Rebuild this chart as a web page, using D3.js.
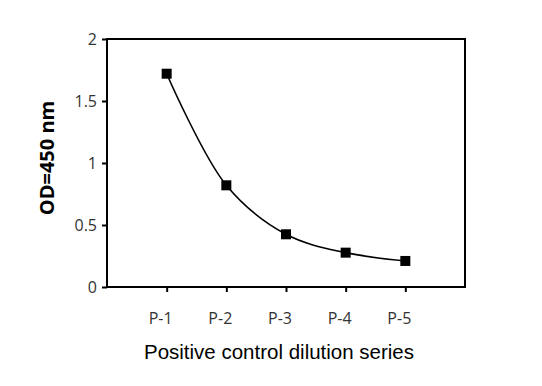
<!DOCTYPE html>
<html><head><meta charset="utf-8">
<script src="https://cdn.jsdelivr.net/npm/d3@7"></script>
<style>body{margin:0;background:#fff}svg{display:block}</style>
</head><body>
<script>
const categories = ["P-1","P-2","P-3","P-4","P-5"];
const values = [1.72, 0.82, 0.425, 0.277, 0.21];
const yTicks = [0, 0.5, 1, 1.5, 2];
const yTickLabels = ["0","0.5","1","1.5","2"];
const xTitle = "Positive control dilution series";
const yTitle = "OD=450 nm";

const W = 542, H = 386;
const L = 107, R = 465, T = 39, B = 287;
const svg = d3.select("body").append("svg").attr("width", W).attr("height", H);

const x = d3.scalePoint().domain(["", ...categories, " "]).range([L, R]);
const y = d3.scaleLinear().domain([0, 2]).range([B, T]);

// frame
svg.append("rect").attr("x", L).attr("y", T).attr("width", R - L).attr("height", B - T)
  .attr("fill", "none").attr("stroke", "#000").attr("stroke-width", 2);

// y axis
const yAxis = d3.axisLeft(y).tickValues(yTicks).tickSize(5).tickPadding(5)
  .tickFormat((d, i) => yTickLabels[i]);
const gy = svg.append("g").attr("transform", `translate(${L},0)`).call(yAxis);
gy.attr("font-size", null).attr("font-family", null);
gy.select(".domain").remove();
gy.selectAll(".tick line").attr("stroke", "#000").attr("stroke-width", 2);
gy.selectAll(".tick text").style("font-family", "'Open Sans', sans-serif").style("font-size", "16px").attr("fill", "#333");

// x axis
const xAxis = d3.axisBottom(x).tickValues(categories).tickSize(5).tickPadding(0).tickFormat(() => "");
const gx = svg.append("g").attr("transform", `translate(0,${B})`).call(xAxis);
gx.select(".domain").remove();
gx.selectAll(".tick line").attr("stroke", "#000").attr("stroke-width", 2);
svg.append("g").selectAll("text").data(categories).join("text")
  .attr("x", d => x(d) - 6).attr("y", 324).attr("text-anchor", "middle")
  .style("font-family", "'Open Sans', sans-serif").style("font-size", "16px").attr("fill", "#333")
  .text(d => d);

// line
const data = categories.map((c, i) => ({c, v: values[i]}));
svg.append("path").datum(data)
  .attr("d", d3.line().x(d => x(d.c)).y(d => y(d.v)).curve(d3.curveCatmullRom.alpha(0.5)))
  .attr("fill", "none").attr("stroke", "#000").attr("stroke-width", 1.6);

svg.append("g").selectAll("rect").data(data).join("rect")
  .attr("x", d => x(d.c) - 5).attr("y", d => y(d.v) - 5)
  .attr("width", 10).attr("height", 10).attr("fill", "#000");

// titles
svg.append("text").attr("x", 279).attr("y", 359).attr("text-anchor", "middle")
  .style("font-family", "'Liberation Sans', Arial, sans-serif").style("font-size", "20.5px").attr("fill", "#000")
  .text(xTitle);
svg.append("text").attr("transform", "translate(54,158) rotate(-90)").attr("text-anchor", "middle")
  .style("font-family", "'Open Sans', sans-serif").style("font-weight", "bold").style("font-size", "20px").attr("fill", "#000")
  .text(yTitle);
</script>
</body></html>
